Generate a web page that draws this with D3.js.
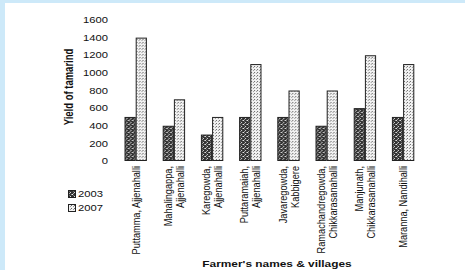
<!DOCTYPE html>
<html>
<head>
<meta charset="utf-8">
<script src="https://cdn.jsdelivr.net/npm/d3@7/dist/d3.min.js"></script>
<style>
  html, body { margin: 0; padding: 0; background: #fff; }
  svg { display: block; }
  text { font-family: "Liberation Sans", Arial, sans-serif; fill: #111; }
</style>
</head>
<body>
<div id="chart"></div>
<script>
// farmer labels (each entry = lines of the rotated label)
const farmers = [
  ['Puttamma, Ajjenahalli'],
  ['Mahalingappa,', 'Ajjenahalli'],
  ['Karegowda,', 'Ajjenahalli'],
  ['Puttaramaiah,', 'Ajjenahalli'],
  ['Javaregowda,', 'Kabbigere'],
  ['Ramachandregowda,', 'Chikkarasanahalli'],
  ['Manjunath,', 'Chikkarasanahalli'],
  ['Maranna, Nandihalli']
];
const years = ['2003', '2007'];
const yield2003 = [500, 400, 300, 500, 500, 400, 600, 500];
const yield2007 = [1400, 700, 500, 1100, 800, 800, 1200, 1100];
const yTicks = [0, 200, 400, 600, 800, 1000, 1200, 1400, 1600];

const W = 465, H = 270;
const SX = 1.25; // the source picture is stretched sideways

const svg = d3.select('#chart').append('svg')
  .attr('width', W)
  .attr('height', H);

// light blue frame on left and top
svg.append('rect').attr('x', 0).attr('y', 0).attr('width', W).attr('height', 3).attr('fill', '#cde9f9');
svg.append('rect').attr('x', 0).attr('y', 0).attr('width', 5).attr('height', H).attr('fill', '#cde9f9');

// fill patterns
const defs = svg.append('defs');
const p1 = defs.append('pattern').attr('id', 'pat2003')
  .attr('patternUnits', 'userSpaceOnUse').attr('width', 4).attr('height', 4);
p1.append('rect').attr('width', 4).attr('height', 4).attr('fill', '#333');
p1.append('rect').attr('x', 0).attr('y', 0).attr('width', 1).attr('height', 1).attr('fill', '#eee');
p1.append('rect').attr('x', 2).attr('y', 2).attr('width', 1).attr('height', 1).attr('fill', '#ddd');
p1.append('rect').attr('x', 3).attr('y', 0).attr('width', 1).attr('height', 1).attr('fill', '#999');
p1.append('rect').attr('x', 1).attr('y', 3).attr('width', 1).attr('height', 1).attr('fill', '#aaa');
p1.append('rect').attr('x', 1).attr('y', 1).attr('width', 1).attr('height', 1).attr('fill', '#666');

const p2 = defs.append('pattern').attr('id', 'pat2007')
  .attr('patternUnits', 'userSpaceOnUse').attr('width', 3).attr('height', 3);
p2.append('rect').attr('width', 3).attr('height', 3).attr('fill', '#f2f2f2');
p2.append('rect').attr('x', 0).attr('y', 0).attr('width', 1).attr('height', 1).attr('fill', '#666');
p2.append('rect').attr('x', 2).attr('y', 1).attr('width', 1).attr('height', 1).attr('fill', '#999');

const fills = { '2003': 'url(#pat2003)', '2007': 'url(#pat2007)' };

// scales
const y = d3.scaleLinear().domain([0, 1600]).range([161, 20]);

const x0 = d3.scaleBand()
  .domain(d3.range(farmers.length))
  .range([105.4, 433.4])
  .paddingInner(0.414)
  .paddingOuter(0.5);

const x1 = d3.scaleBand()
  .domain(years)
  .range([0, x0.bandwidth()]);

// y tick labels (no axis line)
svg.append('g').selectAll('text')
  .data(yTicks)
  .join('text')
  .attr('transform', d => `translate(108,${y(d)}) scale(${SX},1)`)
  .attr('text-anchor', 'end')
  .attr('dy', '0.35em')
  .style('font-size', '9px')
  .text(d => d);

// bars
const rows = farmers.map((f, i) => ({ i, values: [yield2003[i], yield2007[i]] }));

const groups = svg.append('g').selectAll('g')
  .data(rows)
  .join('g')
  .attr('transform', d => `translate(${x0(d.i)},0)`);

groups.selectAll('rect')
  .data(d => years.map((yr, k) => ({ yr, v: d.values[k] })))
  .join('rect')
  .attr('x', d => x1(d.yr) + 0.5)
  .attr('y', d => y(d.v) + 0.5)
  .attr('width', x1.bandwidth() - 1)
  .attr('height', d => y(0) - y(d.v) - 1)
  .attr('fill', d => fills[d.yr])
  .attr('stroke', '#222')
  .attr('stroke-width', 1);

// rotated category labels
const lineGap = 12;
groups.each(function (d) {
  const g = d3.select(this);
  const lines = farmers[d.i];
  const cx = x0.bandwidth() / 2;
  lines.forEach((ln, k) => {
    const off = (k - (lines.length - 1) / 2) * lineGap;
    g.append('text')
      .attr('transform', `translate(${cx + off},166) scale(${SX},1) rotate(-90)`)
      .attr('text-anchor', 'end')
      .attr('dy', '0.35em')
      .style('font-size', '9.2px')
      .text(ln);
  });
});

// axis titles
svg.append('text')
  .attr('transform', `translate(73,87) scale(${SX},1) rotate(-90)`)
  .attr('text-anchor', 'middle')
  .style('font-size', '9.5px')
  .style('font-weight', 'bold')
  .text('Yield of tamarind');

svg.append('text')
  .attr('transform', `translate(277,267) scale(${SX},1)`)
  .attr('text-anchor', 'middle')
  .style('font-size', '9.5px')
  .style('font-weight', 'bold')
  .text("Farmer's names & villages");

// legend
const legend = svg.append('g').selectAll('g')
  .data(years)
  .join('g')
  .attr('transform', (d, k) => `translate(68,${194 + k * 14})`);

legend.append('rect')
  .attr('x', 0.5).attr('y', -3.5)
  .attr('width', 7).attr('height', 7)
  .attr('fill', d => fills[d])
  .attr('stroke', '#222');

legend.append('text')
  .attr('transform', `translate(10,0) scale(${SX},1)`)
  .attr('dy', '0.35em')
  .style('font-size', '9px')
  .text(d => d);
</script>
</body>
</html>
